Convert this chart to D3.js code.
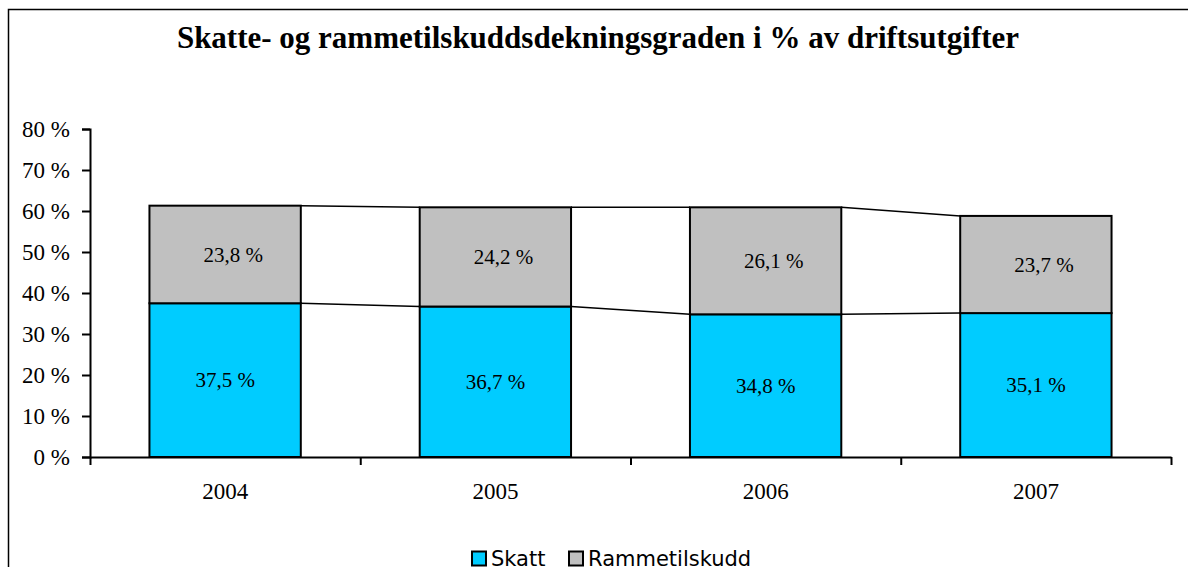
<!DOCTYPE html>
<html>
<head>
<meta charset="utf-8">
<script src="https://cdn.jsdelivr.net/npm/d3@7"></script>
<style>
  body { margin: 0; background: #fff; }
  svg { display: block; }
</style>
</head>
<body>
<svg id="chart"></svg>
<script>
// data
var years = ["2004", "2005", "2006", "2007"];
var skatt = [37.5, 36.7, 34.8, 35.1];
var ramme = [23.8, 24.2, 26.1, 23.7];
var seriesNames = ["Skatt", "Rammetilskudd"];
var seriesColors = ["#00CCFF", "#C0C0C0"];
var yTicks = [0, 10, 20, 30, 40, 50, 60, 70, 80];

var width = 1188, height = 567;
var plot = {left: 90, right: 1171, top: 129, bottom: 457};

var svg = d3.select("#chart")
  .attr("width", width)
  .attr("height", height);

// chart area border (runs off the right and bottom edge)
svg.append("rect")
  .attr("x", 8.5).attr("y", 9.5)
  .attr("width", 1250).attr("height", 650)
  .attr("fill", "#fff")
  .attr("stroke", "#000")
  .attr("stroke-width", 1.5);

// title
svg.append("text")
  .attr("x", 598)
  .attr("y", 48)
  .attr("text-anchor", "middle")
  .style("font-family", "'Liberation Serif','Times New Roman',serif")
  .style("font-weight", "bold")
  .style("font-size", "31px")
  .text("Skatte- og rammetilskuddsdekningsgraden i % av driftsutgifter");

var x = d3.scaleBand()
  .domain(years)
  .range([plot.left, plot.right])
  .paddingInner(0.44)
  .paddingOuter(0.22);

var y = d3.scaleLinear()
  .domain([0, 80])
  .range([plot.bottom, plot.top]);

var fmt = function(v) { return d3.format(".1f")(v).replace(".", ",") + " %"; };

// stacked data
var stacks = [skatt, ramme].map(function(vals, s) {
  return years.map(function(yr, i) {
    var base = s === 0 ? 0 : skatt[i];
    return { year: yr, y0: base, y1: base + vals[i], v: vals[i], s: s };
  });
});

// connector lines between bars
stacks.forEach(function(series) {
  for (var i = 0; i < series.length - 1; i++) {
    svg.append("line")
      .attr("x1", x(series[i].year) + x.bandwidth())
      .attr("y1", y(series[i].y1))
      .attr("x2", x(series[i + 1].year))
      .attr("y2", y(series[i + 1].y1))
      .attr("stroke", "#000")
      .attr("stroke-width", 1.5);
  }
});

// bars
stacks.forEach(function(series, s) {
  svg.append("g").selectAll("rect")
    .data(series)
    .enter()
    .append("rect")
    .attr("x", function(d) { return x(d.year); })
    .attr("y", function(d) { return y(d.y1); })
    .attr("width", x.bandwidth())
    .attr("height", function(d) { return y(d.y0) - y(d.y1); })
    .attr("fill", seriesColors[s])
    .attr("stroke", "#000")
    .attr("stroke-width", 2);
});

// data labels
stacks.forEach(function(series, s) {
  svg.append("g").selectAll("text")
    .data(series)
    .enter()
    .append("text")
    .attr("x", function(d) { return x(d.year) + x.bandwidth() / 2 + (s === 1 ? 8 : 0); })
    .attr("y", function(d) { return (y(d.y0) + y(d.y1)) / 2; })
    .attr("dy", "0.35em")
    .attr("text-anchor", "middle")
    .style("font-family", "'Liberation Serif','Times New Roman',serif")
    .style("font-size", "21px")
    .style("fill", "#000")
    .text(function(d) { return fmt(d.v); });
});

// y axis
var yAxis = svg.append("g")
  .attr("transform", "translate(" + plot.left + ",0)")
  .call(d3.axisLeft(y).tickValues(yTicks).tickSize(8).tickPadding(12)
    .tickFormat(function(d) { return d + " %"; }));
yAxis.select(".domain").attr("stroke-width", 2);
yAxis.selectAll(".tick line").attr("stroke-width", 2);
yAxis.selectAll("text")
  .style("font-family", "'Liberation Serif','Times New Roman',serif")
  .style("font-size", "23px")
  .style("fill", "#000");

// x axis: boundary ticks
var xb = d3.scaleLinear().domain([0, years.length]).range([plot.left, plot.right]);
var xAxisTicks = svg.append("g")
  .attr("transform", "translate(0," + plot.bottom + ")")
  .call(d3.axisBottom(xb).tickValues(d3.range(years.length + 1)).tickSize(8).tickSizeOuter(0).tickFormat(""));
xAxisTicks.select(".domain").attr("stroke-width", 2);
xAxisTicks.selectAll(".tick line").attr("stroke-width", 2);

// x axis: year labels
var xAxisLabels = svg.append("g")
  .attr("transform", "translate(0," + plot.bottom + ")")
  .call(d3.axisBottom(x).tickSize(0).tickPadding(26));
xAxisLabels.select(".domain").remove();
xAxisLabels.selectAll("text")
  .style("font-family", "'Liberation Serif','Times New Roman',serif")
  .style("font-size", "23px")
  .style("fill", "#000");

// legend
var legendX = [472, 569];
var legend = svg.append("g");
seriesNames.forEach(function(name, i) {
  legend.append("rect")
    .attr("x", legendX[i]).attr("y", 551.5)
    .attr("width", 14).attr("height", 14)
    .attr("fill", seriesColors[i])
    .attr("stroke", "#000")
    .attr("stroke-width", 2);
  legend.append("text")
    .attr("x", legendX[i] + 19)
    .attr("y", 566)
    .style("font-family", "'DejaVu Sans',sans-serif")
    .style("font-size", "21px")
    .style("fill", "#000")
    .text(name);
});
</script>
</body>
</html>
